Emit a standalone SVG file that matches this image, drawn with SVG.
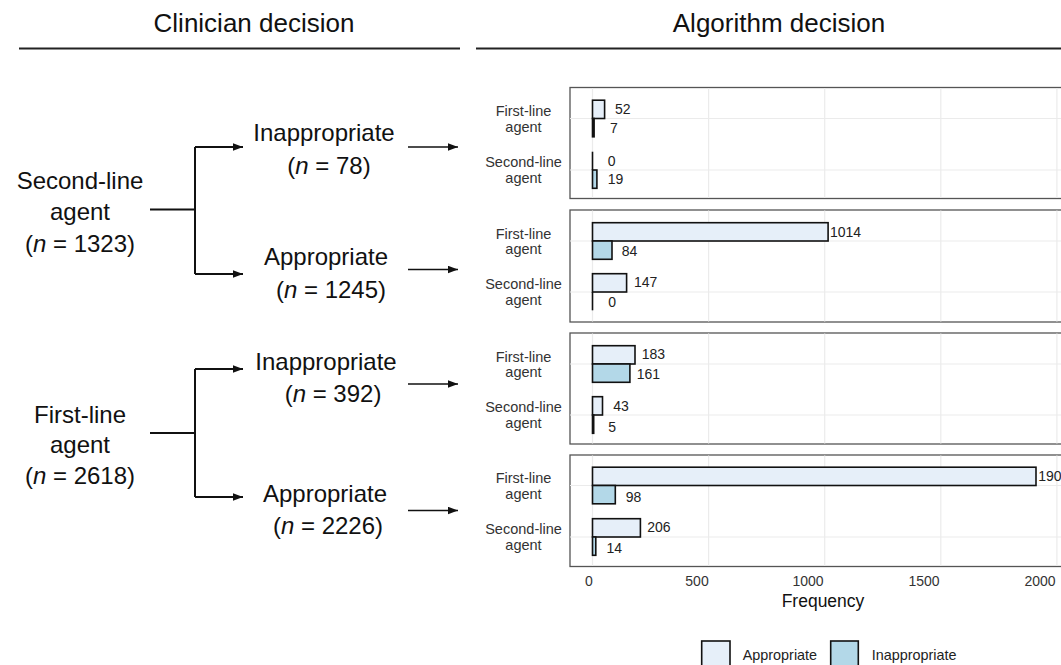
<svg xmlns="http://www.w3.org/2000/svg" width="1061" height="665" viewBox="0 0 1061 665">
<style>
  .hdr{font-family:"Liberation Sans",Arial,sans-serif;font-size:26px;fill:#111;text-anchor:middle}
  .lbl{font-family:"Liberation Sans",Arial,sans-serif;font-size:24px;fill:#111;text-anchor:middle}
  .cat{font-family:"Liberation Sans",Arial,sans-serif;font-size:14.5px;fill:#333;text-anchor:middle}
  .val{font-family:"Liberation Sans",Arial,sans-serif;font-size:14px;fill:#222}
  .tick{font-family:"Liberation Sans",Arial,sans-serif;font-size:14px;fill:#333;text-anchor:middle}
  .ttl{font-family:"Liberation Sans",Arial,sans-serif;font-size:17.5px;fill:#111;text-anchor:middle}
  .leg{font-family:"Liberation Sans",Arial,sans-serif;font-size:14.4px;fill:#222}
  .panel{fill:#fff;stroke:#555;stroke-width:1.3}
  .grid{stroke:#ebebeb;stroke-width:1.2}
  .app{fill:#e6eff9;stroke:#111;stroke-width:1.6}
  .inap{fill:#b3d8e8;stroke:#111;stroke-width:1.6}
  .zero{stroke:#111;stroke-width:1.6}
  .conn{fill:none;stroke:#111;stroke-width:2}
  .arr{fill:none;stroke:#111;stroke-width:1.6}
  .rule{stroke:#222;stroke-width:1.8}
</style>
<defs>
  <marker id="ah" markerUnits="userSpaceOnUse" markerWidth="10" markerHeight="8" refX="10" refY="3.75" orient="auto">
    <path d="M0,0 L10,3.75 L0,7.5 z" fill="#111"/>
  </marker>
</defs>

<g id="headers">
  <text class="hdr" x="254" y="32">Clinician decision</text>
  <line class="rule" x1="19" y1="48.5" x2="460" y2="48.5"/>
  <text class="hdr" x="779" y="32">Algorithm decision</text>
  <line class="rule" x1="476" y1="48.5" x2="1061" y2="48.5"/>
</g>

<g id="connectors">
  <path class="conn" d="M150,209.5 H195 M195,147 V274"/>
  <line class="conn" x1="195" y1="147" x2="243" y2="147" marker-end="url(#ah)"/>
  <line class="conn" x1="195" y1="274" x2="243" y2="274" marker-end="url(#ah)"/>
  <path class="conn" d="M150,433 H195 M195,369 V497"/>
  <line class="conn" x1="195" y1="369" x2="243" y2="369" marker-end="url(#ah)"/>
  <line class="conn" x1="195" y1="497" x2="243" y2="497" marker-end="url(#ah)"/>
  <line class="arr" x1="408" y1="147" x2="458" y2="147" marker-end="url(#ah)"/>
  <line class="arr" x1="408" y1="269.5" x2="458" y2="269.5" marker-end="url(#ah)"/>
  <line class="arr" x1="408" y1="384" x2="458" y2="384" marker-end="url(#ah)"/>
  <line class="arr" x1="408" y1="510.5" x2="458" y2="510.5" marker-end="url(#ah)"/>
</g>

<g id="node-second-line">
  <text class="lbl" x="80" y="189">Second-line</text>
  <text class="lbl" x="80" y="220">agent</text>
  <text class="lbl" x="80" y="251.5">(<tspan font-style="italic">n</tspan> = 1323)</text>
</g>
<g id="node-sl-inappropriate">
  <text class="lbl" x="324" y="141">Inappropriate</text>
  <text class="lbl" x="329" y="173.5">(<tspan font-style="italic">n</tspan> = 78)</text>
</g>
<g id="node-sl-appropriate">
  <text class="lbl" x="326" y="265">Appropriate</text>
  <text class="lbl" x="331" y="297.5">(<tspan font-style="italic">n</tspan> = 1245)</text>
</g>
<g id="node-first-line">
  <text class="lbl" x="80" y="423">First-line</text>
  <text class="lbl" x="80" y="453">agent</text>
  <text class="lbl" x="80" y="484">(<tspan font-style="italic">n</tspan> = 2618)</text>
</g>
<g id="node-fl-inappropriate">
  <text class="lbl" x="326" y="369.5">Inappropriate</text>
  <text class="lbl" x="333" y="402">(<tspan font-style="italic">n</tspan> = 392)</text>
</g>
<g id="node-fl-appropriate">
  <text class="lbl" x="325" y="502">Appropriate</text>
  <text class="lbl" x="328" y="534">(<tspan font-style="italic">n</tspan> = 2226)</text>
</g>

<g id="panel-1">
  <rect class="panel" x="570" y="87.5" width="520" height="111"/>
  <g class="grid">
    <line x1="570" y1="118.5" x2="1061" y2="118.5"/><line x1="570" y1="170" x2="1061" y2="170"/>
    <line x1="592.5" y1="88" x2="592.5" y2="198"/><line x1="708.6" y1="88" x2="708.6" y2="198"/>
    <line x1="824.7" y1="88" x2="824.7" y2="198"/><line x1="940.8" y1="88" x2="940.8" y2="198"/>
    <line x1="1056.9" y1="88" x2="1056.9" y2="198"/>
  </g>
  <text class="cat" x="523.5" y="116">First-line</text><text class="cat" x="523.5" y="131.5">agent</text>
  <text class="cat" x="523.5" y="167">Second-line</text><text class="cat" x="523.5" y="182.5">agent</text>
  <rect class="app" x="592.5" y="100.2" width="12.1" height="18.3"/>
  <rect class="inap" x="592.5" y="118.5" width="1.6" height="18.3"/>
  <line class="zero" x1="592.5" y1="151.7" x2="592.5" y2="170"/>
  <rect class="inap" x="592.5" y="170" width="4.4" height="18.3"/>
  <text class="val" x="615" y="114.3">52</text>
  <text class="val" x="610" y="133">7</text>
  <text class="val" x="607.7" y="165.7">0</text>
  <text class="val" x="607.7" y="184.3">19</text>
</g>

<g id="panel-2">
  <rect class="panel" x="570" y="210" width="520" height="112"/>
  <g class="grid">
    <line x1="570" y1="241" x2="1061" y2="241"/><line x1="570" y1="292" x2="1061" y2="292"/>
    <line x1="592.5" y1="210.5" x2="592.5" y2="321.5"/><line x1="708.6" y1="210.5" x2="708.6" y2="321.5"/>
    <line x1="824.7" y1="210.5" x2="824.7" y2="321.5"/><line x1="940.8" y1="210.5" x2="940.8" y2="321.5"/>
    <line x1="1056.9" y1="210.5" x2="1056.9" y2="321.5"/>
  </g>
  <text class="cat" x="523.5" y="238.5">First-line</text><text class="cat" x="523.5" y="254">agent</text>
  <text class="cat" x="523.5" y="289">Second-line</text><text class="cat" x="523.5" y="304.5">agent</text>
  <rect class="app" x="592.5" y="222.7" width="235.6" height="18.3"/>
  <rect class="inap" x="592.5" y="241" width="19.5" height="18.3"/>
  <rect class="app" x="592.5" y="273.7" width="34.1" height="18.3"/>
  <line class="zero" x1="592.5" y1="292" x2="592.5" y2="310.3"/>
  <text class="val" x="830" y="236.5">1014</text>
  <text class="val" x="621.7" y="255.5">84</text>
  <text class="val" x="634" y="287">147</text>
  <text class="val" x="608.3" y="306.5">0</text>
</g>

<g id="panel-3">
  <rect class="panel" x="570" y="333" width="520" height="111"/>
  <g class="grid">
    <line x1="570" y1="364" x2="1061" y2="364"/><line x1="570" y1="415" x2="1061" y2="415"/>
    <line x1="592.5" y1="333.5" x2="592.5" y2="443.5"/><line x1="708.6" y1="333.5" x2="708.6" y2="443.5"/>
    <line x1="824.7" y1="333.5" x2="824.7" y2="443.5"/><line x1="940.8" y1="333.5" x2="940.8" y2="443.5"/>
    <line x1="1056.9" y1="333.5" x2="1056.9" y2="443.5"/>
  </g>
  <text class="cat" x="523.5" y="361.5">First-line</text><text class="cat" x="523.5" y="377">agent</text>
  <text class="cat" x="523.5" y="412">Second-line</text><text class="cat" x="523.5" y="427.5">agent</text>
  <rect class="app" x="592.5" y="345.7" width="42.5" height="18.3"/>
  <rect class="inap" x="592.5" y="364" width="37.4" height="18.3"/>
  <rect class="app" x="592.5" y="396.7" width="10" height="18.3"/>
  <rect class="inap" x="592.5" y="415" width="1.2" height="18.3"/>
  <text class="val" x="641.7" y="358.5">183</text>
  <text class="val" x="636.7" y="379">161</text>
  <text class="val" x="613.3" y="411">43</text>
  <text class="val" x="608.3" y="431.7">5</text>
</g>

<g id="panel-4">
  <rect class="panel" x="570" y="455" width="520" height="111.5"/>
  <g class="grid">
    <line x1="570" y1="485.5" x2="1061" y2="485.5"/><line x1="570" y1="537" x2="1061" y2="537"/>
    <line x1="592.5" y1="455.5" x2="592.5" y2="566"/><line x1="708.6" y1="455.5" x2="708.6" y2="566"/>
    <line x1="824.7" y1="455.5" x2="824.7" y2="566"/><line x1="940.8" y1="455.5" x2="940.8" y2="566"/>
    <line x1="1056.9" y1="455.5" x2="1056.9" y2="566"/>
  </g>
  <text class="cat" x="523.5" y="483">First-line</text><text class="cat" x="523.5" y="498.5">agent</text>
  <text class="cat" x="523.5" y="534">Second-line</text><text class="cat" x="523.5" y="549.5">agent</text>
  <rect class="app" x="592.5" y="467.2" width="443.5" height="18.3"/>
  <rect class="inap" x="592.5" y="485.5" width="22.8" height="18.3"/>
  <rect class="app" x="592.5" y="518.7" width="47.9" height="18.3"/>
  <rect class="inap" x="592.5" y="537" width="3.3" height="18.3"/>
  <text class="val" x="1038.3" y="480.5">190</text>
  <text class="val" x="625.7" y="501.7">98</text>
  <text class="val" x="647.2" y="532.3">206</text>
  <text class="val" x="606.5" y="553.3">14</text>
</g>

<g id="x-axis">
  <text class="tick" x="589" y="586">0</text>
  <text class="tick" x="697" y="586">500</text>
  <text class="tick" x="808" y="586">1000</text>
  <text class="tick" x="924" y="586">1500</text>
  <text class="tick" x="1040" y="586">2000</text>
  <text class="ttl" x="823" y="607">Frequency</text>
</g>

<g id="legend">
  <rect class="app" x="701.7" y="641" width="28.3" height="30"/>
  <text class="leg" x="742.7" y="660">Appropriate</text>
  <rect class="inap" x="830.7" y="641" width="27.6" height="30"/>
  <text class="leg" x="871.7" y="660">Inappropriate</text>
</g>
</svg>
